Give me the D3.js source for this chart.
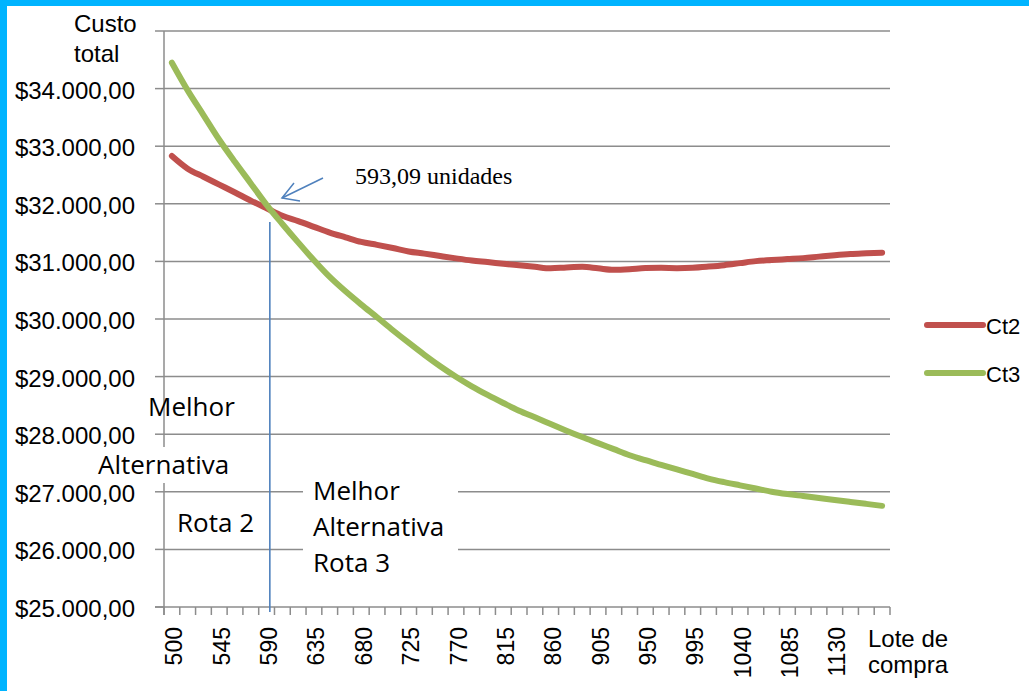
<!DOCTYPE html>
<html>
<head>
<meta charset="utf-8">
<script src="https://cdn.jsdelivr.net/npm/d3@7"></script>
<style>
  html, body { margin: 0; padding: 0; background: #ffffff; }
  svg { display: block; }
</style>
</head>
<body>
<svg id="chart" width="1029" height="691"></svg>
<script>
// Lote de compra (unidades), one point every 15 units
const categories = d3.range(500, 1176, 15);

// Custo total for each route, in $
const ct2 = [
  32830, 32610, 32470, 32333, 32196, 32056, 31923, 31792, 31700, 31600,
  31500, 31418, 31338, 31287, 31232, 31173, 31135, 31093, 31052, 31015,
  30988, 30960, 30933, 30906, 30880, 30895, 30905, 30880, 30855, 30865,
  30885, 30888, 30883, 30890, 30910, 30935, 30970, 31005, 31023, 31040,
  31057, 31083, 31108, 31128, 31140, 31151
];
const ct3 = [
  34450, 33970, 33541, 33112, 32725, 32354, 31982, 31650, 31330, 31020,
  30730, 30480, 30250, 30030, 29805, 29588, 29378, 29180, 28998, 28832,
  28682, 28542, 28408, 28293, 28177, 28061, 27950, 27845, 27740, 27635,
  27549, 27469, 27389, 27310, 27230, 27167, 27112, 27057, 27002, 26961,
  26927, 26893, 26858, 26824, 26790, 26756
];
const seriesNames = ["Ct2", "Ct3"];
const seriesColors = ["#C0504D", "#9BBB59"];

// Value axis gridlines, the labelled values, and the labelled lot sizes
const yTicks = d3.range(25000, 35001, 1000);
const yLabels = d3.range(25000, 34001, 1000);
const xLabels = [500, 545, 590, 635, 680, 725, 770, 815, 860, 905, 950, 995, 1040, 1085, 1130];

// Break-even lot size between the two routes
const breakEven = 593.09;
const breakEvenLabel = "593,09 unidades";

const svg = d3.select("#chart");
const W = 1029, H = 691;
const plot = { left: 164, right: 890, top: 31, bottom: 607 };

const ptBR = d3.formatLocale({
  decimal: ",", thousands: ".", grouping: [3], currency: ["$", ""]
});
const fmtMoney = ptBR.format("$,.2f");

const x = d3.scaleBand()
  .domain(categories)
  .range([plot.left, plot.right])
  .paddingInner(0).paddingOuter(0);
const xc = d => x(d) + x.bandwidth() / 2;
const xLin = d3.scaleLinear()
  .domain([categories[0], categories[categories.length - 1]])
  .range([xc(categories[0]), xc(categories[categories.length - 1])]);
const y = d3.scaleLinear().domain([25000, 35000]).range([plot.bottom, plot.top]);

svg.append("rect").attr("width", W).attr("height", H).attr("fill", "#ffffff");

const gridColor = "#8c8c8c";
const sans = "'Liberation Sans', Arial, sans-serif";

// Horizontal gridlines and tick marks on the value axis
const grid = svg.append("g");
grid.selectAll("line.grid")
  .data(yTicks.filter(t => t > 25000))
  .join("line")
  .attr("x1", plot.left).attr("x2", plot.right)
  .attr("y1", d => y(d)).attr("y2", d => y(d))
  .attr("stroke", gridColor).attr("stroke-width", 1.5);
grid.selectAll("line.tick")
  .data(yTicks)
  .join("line")
  .attr("x1", plot.left - 9).attr("x2", plot.left)
  .attr("y1", d => y(d)).attr("y2", d => y(d))
  .attr("stroke", gridColor).attr("stroke-width", 1.5);

// Axis lines
svg.append("line")
  .attr("x1", plot.left).attr("x2", plot.left)
  .attr("y1", plot.top).attr("y2", plot.bottom + 8)
  .attr("stroke", gridColor).attr("stroke-width", 1.5);
svg.append("line")
  .attr("x1", plot.left - 9).attr("x2", plot.right)
  .attr("y1", plot.bottom).attr("y2", plot.bottom)
  .attr("stroke", gridColor).attr("stroke-width", 1.5);

// Category tick marks at band edges
const edges = categories.map(c => x(c)).concat([plot.right]);
svg.append("g").selectAll("line")
  .data(edges)
  .join("line")
  .attr("x1", d => d).attr("x2", d => d)
  .attr("y1", plot.bottom).attr("y2", plot.bottom + 8)
  .attr("stroke", gridColor).attr("stroke-width", 1.5);

// Value labels
svg.append("g").selectAll("text")
  .data(yLabels)
  .join("text")
  .attr("x", 135).attr("y", d => y(d) + 10)
  .attr("text-anchor", "end")
  .attr("font-family", sans).attr("font-size", 24)
  .attr("fill", "#000")
  .text(d => fmtMoney(d));

// Category labels, rotated
svg.append("g").selectAll("text")
  .data(xLabels)
  .join("text")
  .attr("transform", d => `translate(${xc(d) + 2.5},627) rotate(-90)`)
  .attr("dy", "0.35em")
  .attr("text-anchor", "end")
  .attr("font-family", sans).attr("font-size", 23)
  .attr("fill", "#000")
  .text(d => d);

// Axis titles
const yTitle = svg.append("text")
  .attr("font-family", sans).attr("font-size", 24).attr("fill", "#000");
yTitle.append("tspan").attr("x", 74).attr("y", 32).text("Custo");
yTitle.append("tspan").attr("x", 74).attr("y", 62).text("total");

const xTitle = svg.append("text")
  .attr("font-family", sans).attr("font-size", 24).attr("fill", "#000");
xTitle.append("tspan").attr("x", 868).attr("y", 647).text("Lote de");
xTitle.append("tspan").attr("x", 868).attr("y", 673).text("compra");

// Break-even marker
const annoBlue = "#4F81BD";
const xBE = xLin(breakEven);
svg.append("line")
  .attr("x1", xBE).attr("x2", xBE)
  .attr("y1", 222).attr("y2", plot.bottom + 5)
  .attr("stroke", annoBlue).attr("stroke-width", 1.6);

// Cost curves
const line = d3.line()
  .x((d, i) => xc(categories[i]))
  .y(d => y(d))
  .curve(d3.curveMonotoneX);
[ct2, ct3].forEach((s, k) => {
  svg.append("path")
    .datum(s)
    .attr("d", line)
    .attr("fill", "none")
    .attr("stroke", seriesColors[k])
    .attr("stroke-width", 6)
    .attr("stroke-linecap", "round")
    .attr("stroke-linejoin", "round");
});

// Arrow pointing at the crossing
const tip = [282, 198], tail = [323, 178];
svg.append("line")
  .attr("x1", tail[0]).attr("y1", tail[1])
  .attr("x2", tip[0]).attr("y2", tip[1])
  .attr("stroke", annoBlue).attr("stroke-width", 1.5);
svg.append("path")
  .attr("d", `M${tip[0] + 12},${tip[1] - 15} L${tip[0]},${tip[1]} L${tip[0] + 18},${tip[1] + 3}`)
  .attr("fill", "none")
  .attr("stroke", annoBlue).attr("stroke-width", 1.5)
  .attr("stroke-linejoin", "miter");
svg.append("text")
  .attr("x", 355).attr("y", 184)
  .attr("font-family", "'Liberation Serif', 'Times New Roman', serif")
  .attr("font-size", 24).attr("fill", "#000")
  .text(breakEvenLabel);

// Region notes
const noteFont = "'Open Sans', 'Noto Sans', sans-serif";
svg.append("rect")
  .attr("x", 98).attr("y", 447).attr("width", 138).attr("height", 36)
  .attr("fill", "#ffffff");
svg.append("rect")
  .attr("x", 303).attr("y", 474).attr("width", 155).attr("height", 110)
  .attr("fill", "#ffffff");

const notes = [
  { text: "Melhor", x: 148, y: 416 },
  { text: "Alternativa", x: 98, y: 474 },
  { text: "Rota 2", x: 177, y: 532 },
  { text: "Melhor", x: 313, y: 500 },
  { text: "Alternativa", x: 313, y: 536 },
  { text: "Rota 3", x: 313, y: 572 }
];
svg.append("g").selectAll("text")
  .data(notes)
  .join("text")
  .attr("x", d => d.x).attr("y", d => d.y)
  .attr("font-family", noteFont).attr("font-size", 26)
  .attr("fill", "#000")
  .text(d => d.text);

// Legend
const legend = svg.append("g");
seriesNames.forEach((name, k) => {
  const ly = 325 + k * 48;
  legend.append("line")
    .attr("x1", 927).attr("x2", 983)
    .attr("y1", ly).attr("y2", ly)
    .attr("stroke", seriesColors[k]).attr("stroke-width", 6)
    .attr("stroke-linecap", "round");
  legend.append("text")
    .attr("x", 986).attr("y", ly + 9)
    .attr("font-family", sans).attr("font-size", 22)
    .attr("fill", "#000")
    .text(name);
});

// Frame
svg.append("rect").attr("x", 0).attr("y", 0).attr("width", W).attr("height", 6).attr("fill", "#00B4FF");
svg.append("rect").attr("x", 0).attr("y", 0).attr("width", 7).attr("height", H).attr("fill", "#00B4FF");
</script>
</body>
</html>
